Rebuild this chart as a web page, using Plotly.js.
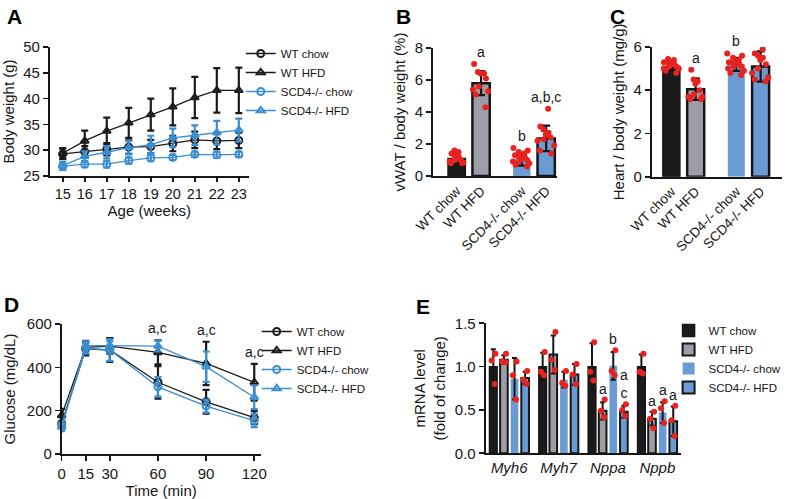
<!DOCTYPE html>
<html><head><meta charset="utf-8">
<script src="https://cdn.plot.ly/plotly-3.0.1.min.js"></script>
<style>html,body{margin:0;padding:0;background:#fff}#chart{width:787px;height:499px}</style>
</head><body><div id="chart"></div>
<script>
// ---------- Panel A: body weight ----------
const ageWeeks = [15,16,17,18,19,20,21,22,23];
const bwWTchow    = [29.3,29.7,30.2,30.6,30.7,31.3,32.0,31.8,31.9];
const bwWTchowErr = [1.0,1.1,1.2,1.3,1.3,1.5,1.6,1.6,1.5];
const bwWThfd     = [29.4,31.8,33.7,35.3,36.9,38.4,40.2,41.6,41.6];
const bwWThfdErr  = [1.0,2.0,2.6,2.9,3.1,3.6,4.0,4.3,4.4];
const bwKOchow    = [26.9,27.3,27.3,28.0,28.5,28.6,29.2,29.1,29.2];
const bwKOchowErr = [0.7,0.6,0.7,0.6,0.6,0.5,0.5,0.6,0.5];
const bwKOhfd     = [27.0,28.8,29.6,30.5,31.1,32.4,32.9,33.4,33.9];
const bwKOhfdErr  = [0.8,1.0,1.2,1.3,1.7,1.8,1.9,2.3,2.2];

// ---------- Panels B, C: groups ----------
const groups = ['WT chow','WT HFD','SCD4-/- chow','SCD4-/- HFD'];
const vwatMean = [1.1,5.8,1.05,2.35];
const vwatErr  = [0.3,0.75,0.4,0.8];
const vwatDotsWTchow = [1.6,1.5,1.4,1.3,1.2,1.1,1.0,0.9,0.8,0.8,0.85,1.0];
const vwatDotsWThfd  = [7.0,6.5,6.4,6.4,6.1,5.6,5.4,5.3,5.1,4.3];
const vwatDotsKOchow = [1.75,1.6,1.5,1.4,1.3,1.2,1.1,1.0,0.9,0.8,0.7,0.6,0.9,1.2];
const vwatDotsKOhfd  = [4.2,3.1,2.9,2.7,2.4,2.3,2.2,1.9,1.6,1.4,2.6];
const vwatLetters = ['','a','b','a,b,c'];

const heartMean = [5.1,4.05,5.2,5.1];
const heartErr  = [0.2,0.5,0.3,0.7];
const heartDotsWTchow = [5.45,5.4,5.3,5.3,5.2,5.2,5.1,5.0,5.0,4.9,4.8,5.1];
const heartDotsWThfd  = [4.95,4.5,4.4,4.3,4.0,3.8,3.7,3.6,3.6,3.7];
const heartDotsKOchow = [5.7,5.6,5.5,5.4,5.3,5.2,5.2,5.1,5.0,4.9,4.8,4.7,5.3,5.1];
const heartDotsKOhfd  = [6.7,5.9,5.7,5.6,5.5,5.4,5.2,5.0,4.8,4.6,4.5,4.4];
const heartLetters = ['','a','b','b'];

// ---------- Panel D: glucose tolerance ----------
const gttTime = [0,15,30,60,90,120];
const gttWTchow    = [141,485,480,331,241,168];
const gttWTchowErr = [25,30,55,75,55,30];
const gttWThfd     = [178,492,498,469,418,331];
const gttWThfdErr  = [30,30,35,55,100,85];
const gttKOchow    = [134,488,480,310,221,154];
const gttKOchowErr = [20,25,50,45,30,30];
const gttKOhfd     = [125,500,500,498,403,262];
const gttKOhfdErr  = [20,20,20,25,70,55];
const gttLetters = ['','','','a,c','a,c','a,c'];

// ---------- Panel E: mRNA ----------
const genes = ['Myh6','Myh7','Nppa','Nppb'];
const mrnaWTchow    = [1.0,1.0,1.0,1.0];
const mrnaWTchowErr = [0.2,0.16,0.27,0.14];
const mrnaWThfd     = [1.08,1.14,0.49,0.40];
const mrnaWThfdErr  = [0.05,0.22,0.1,0.08];
const mrnaKOchow    = [0.86,0.85,1.01,0.47];
const mrnaKOchowErr = [0.24,0.09,0.16,0.12];
const mrnaKOhfd     = [0.87,0.91,0.48,0.37];
const mrnaKOhfdErr  = [0.07,0.12,0.07,0.17];
const mrnaDotsWTchow = [[1.15,1.07,0.80],[1.17,0.94,0.90],[1.28,0.94,0.84],[1.15,0.94,0.92]];
const mrnaDotsWThfd  = [[1.15,1.06,1.05],[1.40,1.08,0.96],[0.62,0.49,0.42],[0.48,0.40,0.29]];
const mrnaDotsKOchow = [[1.06,0.90,0.62],[0.95,0.81,0.78],[1.19,0.95,0.90],[0.60,0.52,0.35]];
const mrnaDotsKOhfd  = [[0.95,0.85,0.80],[1.03,0.91,0.80],[0.565,0.50,0.43],[0.55,0.38,0.20]];
const mrnaLettersWThfd  = ['','','a','a'];
const mrnaLettersKOchow = ['','','b','a'];
const mrnaLettersKOhfd  = ['','','a<br>c','a'];

// ---------- styling / layout helpers ----------
const FONT = 'Arial, "Liberation Sans", sans-serif';
const INK = '#161616';
const BLACK = '#1b1b1b', GREY = '#9d9da5', BLUE = '#6b9bd3', LINEBLUE = '#3a8ed2', RED = '#e8231f';
const W = 787, H = 499;
const fx = p => p / W;
const fy = p => 1 - p / H;
const groupPos = [0, 1, 2.67, 3.67];

const axisStyle = {showline:true, linecolor:INK, linewidth:1.8, ticks:'outside', ticklen:5, tickwidth:1.6,
  tickcolor:INK, showgrid:false, zeroline:false, tickfont:{size:15, color:INK}, automargin:false};
const noTicks = Object.assign({}, axisStyle, {ticks:''});

const traces = [];
const annotations = [];

function lineSeries(x, y, err, name, color, symbol, xa, ya, legend) {
  return {type:'scatter', mode:'lines+markers', x:x, y:y, name:name, xaxis:xa, yaxis:ya, legend:legend,
    cliponaxis:false,
    line:{color:color, width:1.3},
    marker:{symbol:symbol, size:7, color:color, line:{width:2, color:color}},
    error_y:{type:'data', array:err, color:color, thickness:2.2, width:3.5}};
}

// Panel A
traces.push(lineSeries(ageWeeks, bwWTchow, bwWTchowErr, 'WT chow', BLACK, 'circle-open', 'x', 'y', 'legend'));
traces.push(lineSeries(ageWeeks, bwWThfd, bwWThfdErr, 'WT HFD', BLACK, 'triangle-up-open', 'x', 'y', 'legend'));
traces.push(lineSeries(ageWeeks, bwKOchow, bwKOchowErr, 'SCD4-/- chow', LINEBLUE, 'circle-open', 'x', 'y', 'legend'));
traces.push(lineSeries(ageWeeks, bwKOhfd, bwKOhfdErr, 'SCD4-/- HFD', LINEBLUE, 'triangle-up-open', 'x', 'y', 'legend'));

// Panel D
traces.push(lineSeries(gttTime, gttWTchow, gttWTchowErr, 'WT chow', BLACK, 'circle-open', 'x4', 'y4', 'legend2'));
traces.push(lineSeries(gttTime, gttWThfd, gttWThfdErr, 'WT HFD', BLACK, 'triangle-up-open', 'x4', 'y4', 'legend2'));
traces.push(lineSeries(gttTime, gttKOchow, gttKOchowErr, 'SCD4-/- chow', LINEBLUE, 'circle-open', 'x4', 'y4', 'legend2'));
traces.push(lineSeries(gttTime, gttKOhfd, gttKOhfdErr, 'SCD4-/- HFD', LINEBLUE, 'triangle-up-open', 'x4', 'y4', 'legend2'));
gttLetters.forEach((t, i) => {
  if (!t) return;
  const top = Math.max(gttWTchow[i]+gttWTchowErr[i], gttWThfd[i]+gttWThfdErr[i], gttKOchow[i]+gttKOchowErr[i], gttKOhfd[i]+gttKOhfdErr[i]);
  annotations.push({xref:'x4', yref:'y4', x:gttTime[i], y:top, text:t, showarrow:false, yanchor:'bottom', yshift:2, font:{size:14, color:INK}});
});

// Bars with dots (B, C)
const fillColors = [BLACK, GREY, BLUE, BLUE];
const outlineW = [1.5, 2.5, 0, 2.5];
function dotBox(xPos, vals, xa, ya, w) {
  return {type:'box', x:vals.map(() => xPos), y:vals, xaxis:xa, yaxis:ya, boxpoints:'all', jitter:1, pointpos:0,
    width:w, fillcolor:'rgba(0,0,0,0)', line:{width:0, color:'rgba(0,0,0,0)'}, whiskerwidth:0,
    marker:{color:RED, size:6, line:{width:0}}, showlegend:false, hoverinfo:'skip'};
}
function barPanel(means, errs, dots, letters, xa, ya, width) {
  traces.push({type:'bar', x:groupPos, y:means, width:width, xaxis:xa, yaxis:ya, showlegend:false,
    marker:{color:fillColors, line:{color:INK, width:outlineW}},
    error_y:{type:'data', array:errs, color:INK, thickness:2.2, width:4}});
  dots.forEach((d, i) => traces.push(dotBox(groupPos[i], d, xa, ya, width*1.2)));
  letters.forEach((t, i) => {
    if (!t) return;
    annotations.push({xref:xa, yref:ya, x:groupPos[i], y:Math.max(...dots[i], means[i]+errs[i]), text:t, showarrow:false,
      yanchor:'bottom', yshift:2, font:{size:14, color:INK}});
  });
}
barPanel(vwatMean, vwatErr, [vwatDotsWTchow, vwatDotsWThfd, vwatDotsKOchow, vwatDotsKOhfd], vwatLetters, 'x2', 'y2', 0.71);
barPanel(heartMean, heartErr, [heartDotsWTchow, heartDotsWThfd, heartDotsKOchow, heartDotsKOhfd], heartLetters, 'x3', 'y3', 0.70);

// Panel E grouped bars
const eStep = 0.215, eWidth = 0.155;
const eSeries = [
  {name:'WT chow', m:mrnaWTchow, e:mrnaWTchowErr, d:mrnaDotsWTchow, l:null, c:BLACK, lw:1.5},
  {name:'WT HFD', m:mrnaWThfd, e:mrnaWThfdErr, d:mrnaDotsWThfd, l:mrnaLettersWThfd, c:GREY, lw:2},
  {name:'SCD4-/- chow', m:mrnaKOchow, e:mrnaKOchowErr, d:mrnaDotsKOchow, l:mrnaLettersKOchow, c:BLUE, lw:0},
  {name:'SCD4-/- HFD', m:mrnaKOhfd, e:mrnaKOhfdErr, d:mrnaDotsKOhfd, l:mrnaLettersKOhfd, c:BLUE, lw:2}
];
const geneIdx = genes.map((g, i) => i);
eSeries.forEach((s, j) => {
  const xs = geneIdx.map(g => g + (j - 1.5) * eStep);
  traces.push({type:'bar', x:xs, y:s.m, width:eWidth, name:s.name, xaxis:'x5', yaxis:'y5', legend:'legend3',
    marker:{color:s.c, line:{color:INK, width:s.lw}},
    error_y:{type:'data', array:s.e, color:INK, thickness:2, width:2.5}});
});
eSeries.forEach((s, j) => {
  geneIdx.forEach(g => {
    const xp = g + (j - 1.5) * eStep;
    traces.push(dotBox(xp, s.d[g], 'x5', 'y5', eWidth * 0.7));
    if (s.l && s.l[g]) {
      annotations.push({xref:'x5', yref:'y5', x:xp, y:Math.max(...s.d[g], s.m[g]+s.e[g]), text:s.l[g], showarrow:false,
        yanchor:'bottom', yshift:1, font:{size:14, color:INK}});
    }
  });
});

// Panel letters
[['A',5,3],['B',396,3],['C',611,3],['D',2,291],['E',416,293]].forEach(([t, px, py]) => {
  annotations.push({xref:'paper', yref:'paper', x:fx(px), y:fy(py), xanchor:'left', yanchor:'top', text:'<b>'+t+'</b>',
    showarrow:false, font:{size:21, color:'#000'}});
});

const legendBase = {xanchor:'left', yanchor:'top', bgcolor:'rgba(0,0,0,0)', borderwidth:0, font:{size:11.5, color:INK}, tracegroupgap:0, itemwidth:30};

const layout = {
  width:W, height:H, margin:{l:0, r:0, t:0, b:0}, paper_bgcolor:'#fff', plot_bgcolor:'rgba(0,0,0,0)',
  font:{family:FONT, size:15, color:INK}, barmode:'overlay', boxmode:'overlay', showlegend:true,
  xaxis: Object.assign({}, axisStyle, {domain:[fx(50), fx(250)], range:[14.41, 23.45], anchor:'y', tickvals:ageWeeks, ticklen:4,
    tickfont:{size:14.5, color:INK}, title:{text:'Age (weeks)', standoff:0, font:{size:15}}}),
  yaxis: Object.assign({}, axisStyle, {domain:[fy(176), fy(47)], range:[25, 50], dtick:5, anchor:'x',
    title:{text:'Body weight (g)', standoff:6, font:{size:15}}}),
  xaxis2: Object.assign({}, noTicks, {domain:[fx(435), fx(560)], range:[-0.98, 4.12], anchor:'y2', tickvals:groupPos, ticktext:groups,
    tickangle:-45, tickfont:{size:13.5, color:INK}}),
  yaxis2: Object.assign({}, axisStyle, {domain:[fy(176), fy(48)], range:[0, 8], dtick:2, anchor:'x2',
    title:{text:'vWAT / body weight (%)', standoff:5, font:{size:15}}}),
  xaxis3: Object.assign({}, noTicks, {domain:[fx(655), fx(786)], range:[-0.81, 4.55], anchor:'y3', tickvals:groupPos, ticktext:groups,
    tickangle:-45, tickfont:{size:13.5, color:INK}}),
  yaxis3: Object.assign({}, axisStyle, {domain:[fy(176.7), fy(47)], range:[0, 6], dtick:2, anchor:'x3',
    title:{text:'Heart / body weight (mg/g)', standoff:5, font:{size:15}}}),
  xaxis4: Object.assign({}, axisStyle, {domain:[fx(62), fx(262)], range:[0, 124], anchor:'y4', tickvals:gttTime,
    title:{text:'Time (min)', standoff:0, font:{size:15}}}),
  yaxis4: Object.assign({}, axisStyle, {domain:[fy(454), fy(324)], range:[0, 600], dtick:200, anchor:'x4',
    title:{text:'Glucose (mg/dL)', standoff:8, font:{size:15}}}),
  xaxis5: Object.assign({}, noTicks, {domain:[fx(488), fx(684)], range:[-0.48, 3.47], anchor:'y5', tickvals:geneIdx,
    ticktext:genes.map(g => '<i>'+g+'</i>'), tickfont:{size:15, color:INK}}),
  yaxis5: Object.assign({}, axisStyle, {domain:[fy(453.3), fy(323.3)], range:[0, 1.5], dtick:0.5, tickformat:'.1f', anchor:'x5',
    title:{text:'mRNA level<br>(fold of change)', standoff:6, font:{size:15}}}),
  legend: Object.assign({}, legendBase, {x:fx(242), y:fy(39)}),
  legend2: Object.assign({}, legendBase, {x:fx(258), y:fy(317)}),
  legend3: Object.assign({}, legendBase, {x:fx(672), y:fy(316)}),
  annotations:annotations
};

Plotly.newPlot('chart', traces, layout, {displayModeBar:false, staticPlot:true});
</script>
</body></html>
